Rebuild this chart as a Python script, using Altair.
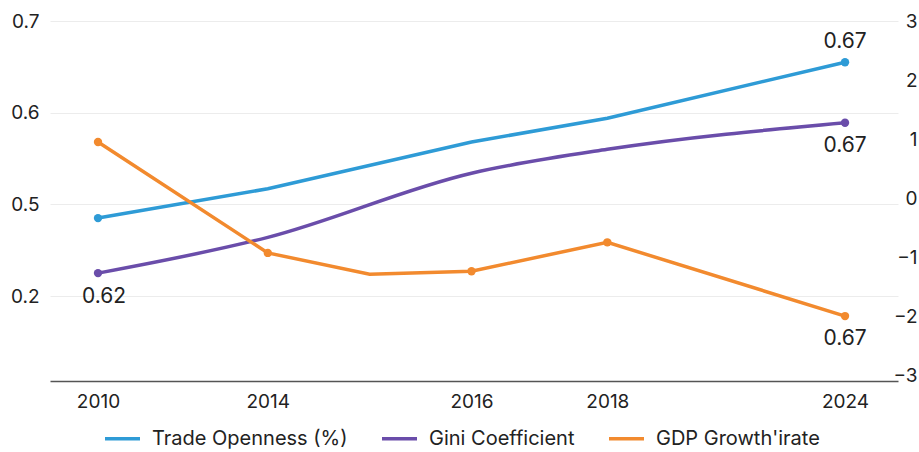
import altair as alt
import pandas as pd

# ---- data -------------------------------------------------------------
years = ["2010", "2014", "2016", "2018", "2024"]
year_period = [0, 5, 11, 15, 22]          # position of each year on the period axis

trade_openness = [0.485, 0.517, 0.568, 0.594, 0.655]
gini = [0.425, 0.464, 0.534, 0.560, 0.589]

gdp_period = [0, 5, 8, 11, 15, 22]
gdp_growth = [0.95, -0.93, -1.29, -1.24, -0.75, -2.0]

series_names = ["Trade Openness (%)", "Gini Coefficient", "GDP Growth'irate"]
series_colors = ["#2E9BD6", "#6A4DAA", "#F28A2E"]

left_tick_values = [0.4, 0.5, 0.6, 0.7]
left_tick_labels = ["0.2", "0.5", "0.6", "0.7"]
right_tick_values = [-3, -2, -1, 0, 1, 2, 3]

note_trade_end = "0.67"
note_gini_end = "0.67"
note_gini_start = "0.62"
note_gdp_end = "0.67"

# ---- tables -----------------------------------------------------------
trade_df = pd.DataFrame({"period": year_period, "value": trade_openness,
                         "series": series_names[0]})
gini_df = pd.DataFrame({"period": year_period, "value": gini,
                        "series": series_names[1]})
gdp_df = pd.DataFrame({"period": gdp_period, "value": gdp_growth,
                       "series": series_names[2]})
gdp_dots = gdp_df[gdp_df["period"].isin(year_period)]
trade_dots = trade_df.iloc[[0, -1]]
gini_dots = gini_df.iloc[[0, -1]]

note_above_df = pd.DataFrame({"period": [year_period[-1]],
                              "value": [trade_openness[-1]],
                              "note": [note_trade_end]})
note_below_df = pd.DataFrame({"period": [year_period[-1]],
                              "value": [gini[-1]],
                              "note": [note_gini_end]})
note_start_df = pd.DataFrame({"period": [year_period[0]],
                              "value": [gini[0]],
                              "note": [note_gini_start]})
note_gdp_df = pd.DataFrame({"period": [gdp_period[-1]],
                            "value": [gdp_growth[-1]],
                            "note": [note_gdp_end]})


def label_expr(values, labels):
    expr = "''"
    for v, l in reversed(list(zip(values, labels))):
        expr = f"datum.value == {v} ? '{l}' : ({expr})"
    return expr


FONT = "Inter"
TEXT = "#222222"
AXIS_SIZE = 19

x_enc = alt.X(
    "period:Q",
    scale=alt.Scale(domain=[-1.414, 23.56], nice=False, zero=False),
    axis=alt.Axis(values=year_period, labelExpr=label_expr(year_period, years),
                  title=None, grid=False, ticks=False, domainColor="#555555",
                  domainWidth=1.5, labelFontSize=AXIS_SIZE, labelPadding=11,
                  labelColor=TEXT, labelFont=FONT),
)

y_left = alt.Y(
    "value:Q",
    scale=alt.Scale(domain=[0.3073, 0.7], nice=False, zero=False),
    axis=alt.Axis(orient="left", values=left_tick_values,
                  labelExpr=label_expr(left_tick_values, left_tick_labels),
                  title=None, grid=True, gridColor="#ececec", gridWidth=1,
                  domain=False, ticks=False, labelFontSize=AXIS_SIZE,
                  labelPadding=11, labelColor=TEXT, labelFont=FONT),
)

y_right = alt.Y(
    "value:Q",
    scale=alt.Scale(domain=[-3.10, 3], nice=False, zero=False),
    axis=alt.Axis(orient="right", values=right_tick_values, title=None,
                  grid=False, domain=False, ticks=False,
                  labelFontSize=AXIS_SIZE, labelAlign="right", labelPadding=19,
                  labelColor=TEXT, labelFont=FONT),
)

color_scale = alt.Scale(domain=series_names, range=series_colors)
color_enc = alt.Color("series:N", scale=color_scale, title=None)


def dots(df, colour):
    return alt.Chart(df).mark_circle(size=70, opacity=1, color=colour)


# ---- left-axis layer: trade openness and Gini ---------------------------
trade_line = alt.Chart(trade_df).mark_line(strokeWidth=3.5).encode(
    x=x_enc, y=y_left, color=color_enc)
gini_line = alt.Chart(gini_df).mark_line(strokeWidth=3.5, interpolate="monotone").encode(
    x=x_enc, y=y_left, color=color_enc)
trade_points = dots(trade_dots, series_colors[0]).encode(x=x_enc, y=y_left)
gini_points = dots(gini_dots, series_colors[1]).encode(x=x_enc, y=y_left)

note_style = dict(font=FONT, fontSize=21, color=TEXT, align="center", baseline="middle")
note_above = alt.Chart(note_above_df).mark_text(dy=-20, **note_style).encode(
    x=x_enc, y=y_left, text="note:N")
note_below = alt.Chart(note_below_df).mark_text(dy=23, **note_style).encode(
    x=x_enc, y=y_left, text="note:N")
note_start = alt.Chart(note_start_df).mark_text(dx=6, dy=24, **note_style).encode(
    x=x_enc, y=y_left, text="note:N")

left_layer = alt.layer(trade_line, gini_line, trade_points, gini_points,
                       note_above, note_below, note_start)

# ---- right-axis layer: GDP growth ---------------------------------------
gdp_line = alt.Chart(gdp_df).mark_line(strokeWidth=3.5).encode(
    x=x_enc, y=y_right, color=color_enc)
gdp_points = dots(gdp_dots, series_colors[2]).encode(x=x_enc, y=y_right)
gdp_note = alt.Chart(note_gdp_df).mark_text(dy=23, **note_style).encode(
    x=x_enc, y=y_right, text="note:N")

right_layer = alt.layer(gdp_line, gdp_points, gdp_note)

chart = (
    alt.layer(left_layer, right_layer)
    .resolve_scale(y="independent")
    .properties(
        width=848,
        height=360,
        autosize=alt.AutoSizeParams(type="none"),
        padding={"left": 50, "top": 21, "right": 21, "bottom": 71},
    )
    .configure(font=FONT)
    .configure_view(stroke=None)
    .configure_legend(
        orient="none", legendX=53, legendY=398, direction="horizontal",
        symbolType="stroke", symbolSize=1225, symbolStrokeWidth=3.5,
        labelFontSize=20, labelColor=TEXT, labelFont=FONT, labelLimit=400,
        labelOffset=10, columnPadding=27, padding=0,
    )
)

chart.save("out.html", embed_options={"renderer": "svg", "actions": False})
